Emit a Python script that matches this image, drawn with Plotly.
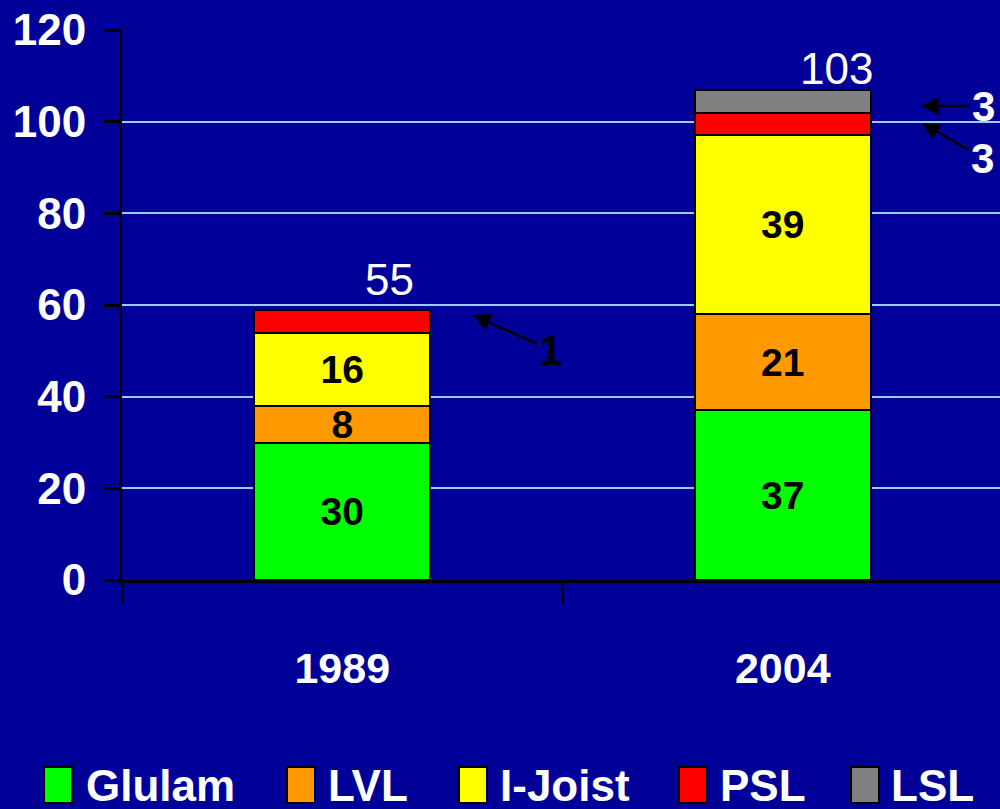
import plotly.graph_objects as go

# ---------------- data ----------------
years = ["1989", "2004"]
series_names = ["Glulam", "LVL", "I-Joist", "PSL", "LSL"]
glulam = [30, 37]
lvl = [8, 21]
ijoist = [16, 39]
psl = [5, 5]
lsl = [None, 5]
glulam_labels = ["30", "37"]
lvl_labels = ["8", "21"]
ijoist_labels = ["16", "39"]
psl_labels = ["1", "3"]
lsl_labels = ["", "3"]
totals = ["55", "103"]
y_ticks = [0, 20, 40, 60, 80, 100, 120]

# ---------------- styles ----------------
colors = ["#00FF00", "#FF9900", "#FFFF00", "#FF0000", "#808080"]
BG = "#000099"
GRID = "#99CCFF"
SANS = "Liberation Sans, Arial, sans-serif"

values = [glulam, lvl, ijoist, psl, lsl]
labels = [glulam_labels, lvl_labels, ijoist_labels, None, None]

fig = go.Figure()
for name, vals, col, lab in zip(series_names, values, colors, labels):
    fig.add_trace(go.Bar(
        x=years, y=vals, name=name, width=0.4,
        marker=dict(color=col, line=dict(color="black", width=2)),
        text=lab,
        textposition="inside" if lab else "none",
        insidetextanchor="middle",
        textangle=0,
        constraintext="none",
        textfont=dict(family=SANS, size=39, color="black", weight="bold"),
        showlegend=False,
    ))

L, T, R, B = 122, 30, 0, 229
W, H = 1000, 809
PW, PH = W - L - R, H - T - B


def px_x(p):
    return (p - L) / PW


def px_y(p):
    return (H - B - p) / PH


annotations = []
# totals above bars
total_pos = [(0.108, 65.5), (1.121, 111.7)]
for txt, (ax_, ay_) in zip(totals, total_pos):
    annotations.append(dict(x=ax_, y=ay_, xref="x", yref="y", text=txt, showarrow=False,
                            font=dict(family=SANS, size=44, color="white")))

# call-outs for small segments
callouts = [
    (psl_labels[0], 0.297, 57.8, 77, 35, "black"),
    (lsl_labels[1], 1.314, 103.4, 62, 0, "white"),
    (psl_labels[1], 1.316, 99.7, 61, 35, "white"),
]
for txt, x, y, axp, ayp, fc in callouts:
    annotations.append(dict(x=x, y=y, xref="x", yref="y", text=txt, showarrow=True,
                            ax=axp, ay=ayp, arrowcolor="black", arrowwidth=2.5,
                            arrowhead=2, arrowsize=1.4,
                            font=dict(family=SANS, size=42, color=fc, weight="bold")))

# manual legend (large swatches)
shapes = []
box_left = [44, 287, 459, 679, 851]
text_left = [84, 326, 498, 718, 889]
for name, col, bx, tx in zip(series_names, colors, box_left, text_left):
    shapes.append(dict(type="rect", xref="paper", yref="paper",
                       x0=px_x(bx), x1=px_x(bx + 28), y0=px_y(803), y1=px_y(767),
                       fillcolor=col, line=dict(color="black", width=2)))
    annotations.append(dict(x=px_x(tx), y=px_y(785), xref="paper", yref="paper",
                            text=name, showarrow=False, xanchor="left", yanchor="middle",
                            font=dict(family=SANS, size=44, color="white", weight="bold")))

fig.update_layout(
    width=W, height=H,
    paper_bgcolor=BG, plot_bgcolor=BG,
    barmode="stack",
    margin=dict(l=L, r=R, t=T, b=B, pad=0, autoexpand=False),
    xaxis=dict(type="category", range=[-0.5, -0.5 + PW / 440.5],
               tickson="boundaries", ticks="outside", ticklen=20, tickwidth=3,
               tickcolor="black", showline=True, linecolor="black", linewidth=3,
               showgrid=False, zeroline=False, automargin=False,
               tickfont=dict(family=SANS, size=43, color="white", weight="bold"),
               ticklabelstandoff=48),
    yaxis=dict(range=[0, 120], tickvals=y_ticks, ticks="outside", ticklen=16,
               tickwidth=3, tickcolor="black", showline=True, linecolor="black",
               linewidth=3, showgrid=True, gridcolor=GRID, gridwidth=2, zeroline=False,
               automargin=False,
               tickfont=dict(family=SANS, size=44, color="white", weight="bold"),
               ticklabelstandoff=8),
    uniformtext=dict(mode="show", minsize=39),
    annotations=annotations,
    shapes=shapes,
)

fig.write_html("out.html", config={"displayModeBar": False},
               post_script="document.body.style.margin='0';document.body.style.background='#000099';")
